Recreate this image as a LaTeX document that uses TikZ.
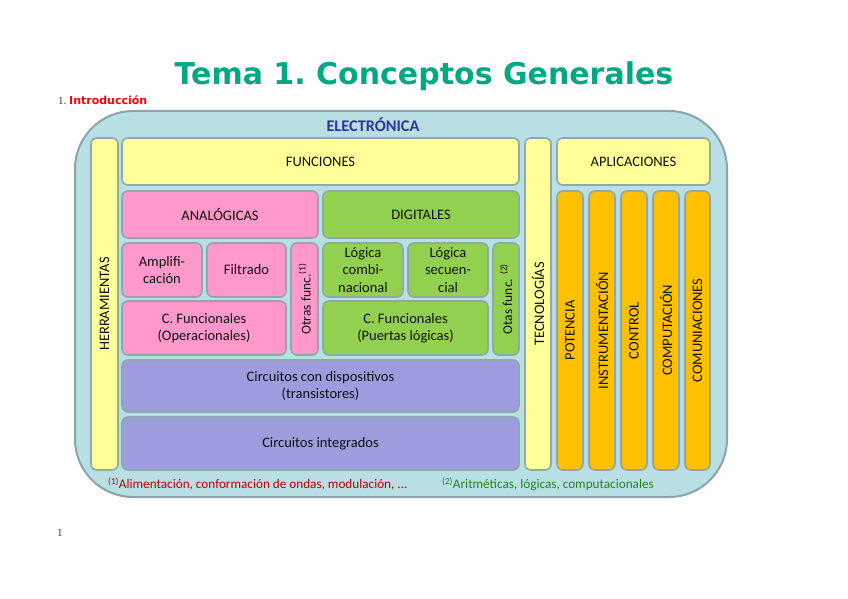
\documentclass[tikz,border=0pt]{standalone}
\usepackage{fontspec}
\setmainfont{Carlito}
\newfontfamily\titfont{DejaVu Sans}
\newfontfamily\numfont{Liberation Serif}
\usetikzlibrary{positioning}

\definecolor{titgreen}{HTML}{00A884}
\definecolor{elecfill}{HTML}{B8DFE3}
\definecolor{elecline}{HTML}{8AA4AC}
\definecolor{elecblue}{HTML}{333399}
\definecolor{boxline}{HTML}{90A7AB}
\definecolor{boxtext}{HTML}{111111}
\definecolor{c_yel}{HTML}{FFFF99}
\definecolor{c_pink}{HTML}{FF99CC}
\definecolor{c_green}{HTML}{92D050}
\definecolor{c_purp}{HTML}{9C9CDE}
\definecolor{c_orng}{HTML}{FFC000}
\definecolor{nota_red}{HTML}{C00000}
\definecolor{nota_grn}{HTML}{1F8A1F}
\definecolor{numgray}{HTML}{3A3A3A}

\begin{document}
\begin{tikzpicture}[
	x=1pt, y=-1pt,
	n_box/.style={
		rectangle,
		draw=boxline,
		line width=1.6pt,
		rounded corners=6pt,
		inner sep=1pt,
		align=center,
		text=boxtext,
		font=\fontsize{14.5}{17.5}\selectfont,
		},
	n_vbox/.style={n_box, rotate=90},
	n_nota/.style={anchor=west, inner sep=0pt, font=\fontsize{13.2}{15}\selectfont},
	]

	\fill[white] (0,0) rectangle (848,599);
	\useasboundingbox (0,0) rectangle (848,599);

	\node(titulo)[text=titgreen, font=\titfont\bfseries\fontsize{30}{36}\selectfont] at (424,76) {Tema 1.\ Conceptos Generales};
	\node(intro)[anchor=west, inner sep=0pt] at (58,100) {\numfont\fontsize{11}{13}\selectfont\color{numgray}1.\ {\titfont\bfseries\fontsize{11}{13}\selectfont\color{red}Introducción}};

	\node(elec)[rectangle, fill=elecfill, draw=elecline, line width=2pt, rounded corners=58pt, minimum width=652pt, minimum height=386pt] at (401,304) {};
	\node(electitle)[text=elecblue, font=\bfseries\fontsize{16.3}{19}\selectfont] at (373,125) {ELECTRÓNICA};

	\node(herr)[n_vbox, fill=c_yel, minimum width=332pt, minimum height=27pt] at (104.5,304) {HERRAMIENTAS};
	\node(func)[n_box, fill=c_yel, minimum width=397pt, minimum height=47pt] at (320.5,161.5) {FUNCIONES};
	\node(analog)[n_box, fill=c_pink, minimum width=196pt, minimum height=47pt] at (220,214.5) {ANALÓGICAS};
	\node(digit)[n_box, fill=c_green, minimum width=196pt, minimum height=47pt] at (421,214.5) {DIGITALES};

	\node(ampl)[n_box, fill=c_pink, minimum width=80pt, minimum height=54pt] at (162,270) {Amplifi-\\cación};
	\node(filt)[n_box, fill=c_pink, minimum width=79pt, minimum height=54pt] at (246.5,270) {Filtrado};
	\node(otras1)[n_vbox, fill=c_pink, minimum width=112pt, minimum height=27pt, font=\fontsize{13.5}{16}\selectfont] at (304.5,299) {Otras func.\textsuperscript{(1)}};
	\node(cfop)[n_box, fill=c_pink, minimum width=164pt, minimum height=54pt] at (204,328) {C. Funcionales\\(Operacionales)};

	\node(lcomb)[n_box, fill=c_green, minimum width=80pt, minimum height=54pt] at (363,270) {Lógica\\combi-\\nacional};
	\node(lsec)[n_box, fill=c_green, minimum width=80pt, minimum height=54pt] at (448,270) {Lógica\\secuen-\\cial};
	\node(otras2)[n_vbox, fill=c_green, minimum width=112pt, minimum height=26pt, font=\fontsize{13.5}{16}\selectfont] at (506,299) {Otas func. \textsuperscript{(2)}};
	\node(cfpl)[n_box, fill=c_green, minimum width=165pt, minimum height=54pt] at (405.5,328) {C. Funcionales\\(Puertas lógicas)};

	\node(cdisp)[n_box, fill=c_purp, minimum width=397pt, minimum height=52pt] at (320.5,386) {Circuitos con dispositivos\\(transistores)};
	\node(cint)[n_box, fill=c_purp, minimum width=397pt, minimum height=53pt] at (320.5,443.5) {Circuitos integrados};

	\node(tecno)[n_vbox, fill=c_yel, minimum width=332pt, minimum height=26pt] at (538,304) {TECNOLOGÍAS};
	\node(aplic)[n_box, fill=c_yel, minimum width=153pt, minimum height=47pt] at (633.5,161.5) {APLICACIONES};

	\node(poten)[n_vbox, fill=c_orng, minimum width=279pt, minimum height=26pt] at (570,330.5) {POTENCIA};
	\node(instr)[n_vbox, fill=c_orng, minimum width=279pt, minimum height=26pt] at (602,330.5) {INSTRUMENTACIÓN};
	\node(contr)[n_vbox, fill=c_orng, minimum width=279pt, minimum height=26pt] at (634,330.5) {CONTROL};
	\node(compu)[n_vbox, fill=c_orng, minimum width=279pt, minimum height=26pt] at (666,330.5) {COMPUTACIÓN};
	\node(comun)[n_vbox, fill=c_orng, minimum width=279pt, minimum height=25pt] at (697.5,330.5) {COMUNIACIONES};

	\node(nota1)[n_nota, text=nota_red] at (108,484) {\textsuperscript{(1)}Alimentación, conformación de ondas, modulación, ...};
	\node(nota2)[n_nota, text=nota_grn] at (442,484) {\textsuperscript{(2)}Aritméticas, lógicas, computacionales};

	\node(pagina)[anchor=west, inner sep=0pt, text=numgray, font=\numfont\fontsize{11}{13}\selectfont] at (57,533) {1};

\end{tikzpicture}
\end{document}
